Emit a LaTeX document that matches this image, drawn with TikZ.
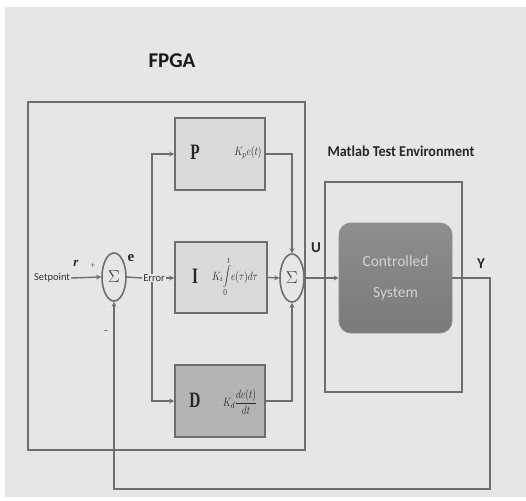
\documentclass[tikz,border=0pt]{standalone}
\usepackage{fontspec}
\setmainfont{Liberation Serif}
\setsansfont{Carlito}
\usetikzlibrary{shapes.geometric,arrows.meta}
\definecolor{bg}{HTML}{E6E6E6}
\definecolor{ln}{HTML}{6E6E6E}
\definecolor{boxfill}{HTML}{DADADA}
\definecolor{dfill}{HTML}{B4B4B4}
\definecolor{cstop}{HTML}{8E8E8E}
\definecolor{csbot}{HTML}{7A7A7A}
\definecolor{cstext}{HTML}{D2D2D2}
\begin{document}
\begin{tikzpicture}[x=1pt,y=-1pt,
  frame/.style={draw=ln,line width=1.6pt},
  block/.style={draw=ln,line width=1.6pt,fill=boxfill,inner sep=0pt},
  sumnode/.style={ellipse,draw=ln,line width=1.6pt,fill=bg,minimum width=24pt,minimum height=48pt,inner sep=0pt,font=\fontsize{17}{17}\selectfont,text=black!80},
  wire/.style={draw=ln,line width=1.4pt},
  conn/.style={wire,-{Stealth[length=5pt,width=5pt]}},
  small/.style={font=\sffamily\fontsize{10.5}{11}\selectfont,text=black!80,inner sep=1pt},
  big/.style={font=\bfseries\fontsize{22}{22}\selectfont,text=black!85},
  formula/.style={font=\fontsize{13}{14}\selectfont,text=black!85,inner sep=0pt}
]
\useasboundingbox (0,0) rectangle (526,500);
\fill[bg] (5,7) rectangle (526,497);

% titles
\node[font=\sffamily\bfseries\fontsize{21}{21}\selectfont,text=black!90] (tfpga) at (172,61) {FPGA};
\node[font=\sffamily\bfseries\fontsize{15}{15}\selectfont,text=black!85] (tmat) at (401,151) {\scalebox{0.94}[1]{Matlab Test Environment}};

% frames
\draw[frame] (28,102) rectangle (305,450);
\draw[frame] (325,182) rectangle (462,392);

% blocks
\node[block,minimum width=90pt,minimum height=72pt] (P) at (220,154) {};
\node[block,minimum width=92pt,minimum height=71pt] (I) at (221,277.5) {};
\node[block,fill=dfill,minimum width=90pt,minimum height=72pt] (D) at (220,401) {};
\node[big] (Pl) at (195,152) {\scalebox{0.7}[1]{P}};
\node[big] (Il) at (195,276) {\scalebox{0.7}[1]{I}};
\node[big] (Dl) at (195,400) {\scalebox{0.7}[1]{D}};
\node[formula] (Pf) at (248,153) {\scalebox{0.8}[1]{$K_p e(t)$}};
\node[formula] (If) at (235,277) {\scalebox{0.8}[1]{$\displaystyle K_i\!\int\limits_0^t\! e(\tau)d\tau$}};
\node[formula] (Df) at (240,402) {\scalebox{0.8}[1]{$K_d\displaystyle\frac{de(t)}{dt}$}};

% sums
\node[sumnode] (s1) at (114,277) {$\Sigma$};
\node[sumnode] (s2) at (292,278) {$\Sigma$};

% controlled system
\node[draw=ln!80,line width=0.8pt,rounded corners=12pt,top color=cstop,bottom color=csbot,minimum width=113pt,minimum height=110pt,align=center,text=cstext,font=\sffamily\fontsize{15.5}{31}\selectfont] (cs) at (395.5,278) {Controlled\\System};

% input side
\node[small] (sp) at (52,278) {Setpoint};
\draw[conn] (sp.east) -- (s1.west);
\node[font=\bfseries\itshape\fontsize{13}{13}\selectfont,text=black!85] (r) at (76,263) {r};
\node[font=\fontsize{9}{9}\selectfont,text=black!70] (plus) at (93,266) {+};
\node[font=\bfseries\fontsize{15}{15}\selectfont,text=black!85] (e) at (131,258) {e};
\node[font=\fontsize{11}{11}\selectfont,text=black!70] (minus) at (106,332) {-};

% branch to P and D
\coordinate (br) at (152,278);
\draw[conn] (br) |- (P.west);
\draw[conn] (br) |- (D.west);
\node[small,fill=bg] (err) at (154,278) {Error};
\draw[wire] (s1.east) -- (err.west);
\draw[conn] (err.east) -- (err.east -| I.west);

% to second sum
\draw[conn] (P.east) -| (s2.north);
\draw[conn] (I.east) -- (s2.west);
\draw[conn] (D.east) -| (s2.south);

% to plant
\draw[conn] (s2.east) -- (cs.west);
\node[font=\sffamily\bfseries\fontsize{15}{15}\selectfont,text=black!85] (U) at (316,248) {U};

% output and feedback
\coordinate (fb1) at (490,278);
\coordinate (fb2) at (490,489);
\draw[conn] (cs.east) -- (fb1) -- (fb2) -| (s1.south);
\node[font=\sffamily\bfseries\fontsize{15}{15}\selectfont,text=black!85] (Y) at (481,264) {Y};
\end{tikzpicture}
\end{document}
